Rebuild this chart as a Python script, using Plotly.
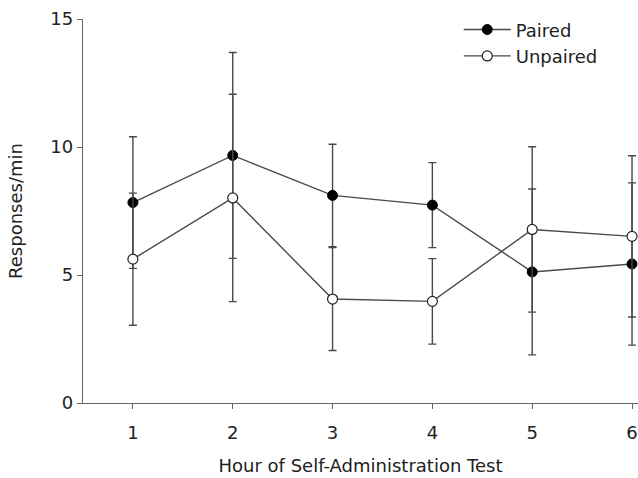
import plotly.graph_objects as go

hours = [1, 2, 3, 4, 5, 6]
paired = [7.83, 9.67, 8.11, 7.73, 5.12, 5.43]
paired_err = [2.57, 4.02, 2.00, 1.66, 3.24, 3.17]
unpaired = [5.62, 8.01, 4.06, 3.97, 6.78, 6.51]
unpaired_err = [2.58, 4.05, 2.01, 1.67, 3.23, 3.15]

x_ticks = [1, 2, 3, 4, 5, 6]
y_ticks = [0, 5, 10, 15]

line_col = "#4a4a4a"
font = dict(family="DejaVu Sans", size=18, color="#222222")

fig = go.Figure()
fig.add_trace(go.Scatter(
    x=hours, y=paired, name="Paired", mode="lines+markers",
    line=dict(color=line_col, width=1.4),
    marker=dict(symbol="circle", size=10, color="black", line=dict(color="black", width=1)),
    error_y=dict(type="data", array=paired_err, visible=True, color=line_col, thickness=1.4, width=4),
    cliponaxis=False,
))
fig.add_trace(go.Scatter(
    x=hours, y=unpaired, name="Unpaired", mode="lines+markers",
    line=dict(color=line_col, width=1.4),
    marker=dict(symbol="circle", size=10, color="white", line=dict(color="#222222", width=1.2)),
    error_y=dict(type="data", array=unpaired_err, visible=True, color=line_col, thickness=1.4, width=4),
    cliponaxis=False,
))

fig.update_layout(
    width=638, height=478,
    margin=dict(l=83, r=0, t=19, b=75),
    paper_bgcolor="white", plot_bgcolor="white",
    font=font,
    showlegend=True,
    legend=dict(x=0.677, y=1.02, xanchor="left", yanchor="top", bgcolor="rgba(0,0,0,0)",
                font=font, itemwidth=47),
)
fig.update_xaxes(
    range=[0.5, 6.06], tickmode="array", tickvals=x_ticks,
    showline=True, linecolor="#666666", linewidth=1.3,
    ticks="outside", ticklen=5, tickcolor="#666666", tickwidth=1.3,
    showgrid=False, zeroline=False, ticklabelstandoff=8,
    title=dict(text="Hour of Self-Administration Test", font=font, standoff=17),
)
fig.update_yaxes(
    range=[0, 15], tickmode="array", tickvals=y_ticks,
    showline=True, linecolor="#666666", linewidth=1.3,
    ticks="outside", ticklen=5, tickcolor="#666666", tickwidth=1.3,
    showgrid=False, zeroline=False,
    title=dict(text="Responses/min", font=font, standoff=23),
)

fig.write_html(
    "out.html",
    config={"displayModeBar": False},
    post_script="document.body.style.margin='0';document.body.style.overflow='hidden';",
)
